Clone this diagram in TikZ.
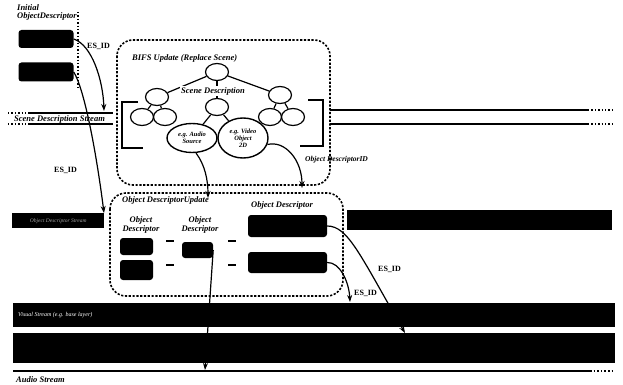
\documentclass[tikz,border=0pt]{standalone}
\usepackage{fontspec}
\setmainfont{Liberation Serif}
\usetikzlibrary{arrows.meta,shapes.geometric}
\begin{document}
\begin{tikzpicture}[x=1pt,y=-1pt,
  lbl/.style={font=\fontsize{8.5}{8.5}\selectfont\bfseries\itshape, inner sep=0pt},
  idlbl/.style={font=\fontsize{8}{8}\selectfont\bfseries, inner sep=0pt},
  blk/.style={fill=black, draw=none, rounded corners=3pt, inner sep=0pt},
  band/.style={fill=black, draw=none},
  dbox/.style={draw, dash pattern=on 2.2pt off 1.6pt, line width=1.6pt, rounded corners=16pt},
  tnode/.style={draw, ellipse, line width=1.2pt, minimum width=23pt, minimum height=17pt, inner sep=0pt},
  bignode/.style={draw, ellipse, line width=1.4pt, inner sep=0pt, font=\fontsize{6.5}{6.8}\selectfont\bfseries\itshape, align=center},
  tedge/.style={line width=1.2pt},
  conn/.style={line width=1.2pt, -{Stealth[length=7pt,width=5pt]}},
  strm/.style={line width=1.4pt},
  strmdot/.style={line width=1.4pt, dotted},
  dashmark/.style={line width=2.2pt}
]
\useasboundingbox[fill=white] (0,0) rectangle (623,385);

% ---------- Initial Object Descriptor ----------
\node[lbl, align=left, anchor=north west] (initlbl) at (17,4) {Initial\\ObjectDescriptor};
\node[blk, minimum width=55pt, minimum height=18pt] (es1) at (46,39) {};
\node[blk, minimum width=55pt, minimum height=19pt] (es2) at (46,72) {};
\coordinate (dvt) at (78,12);
\coordinate (dvb) at (78,90);
\draw[dotted, line width=1.4pt] (dvt) -- (dvb);
\node[idlbl, anchor=west] (esid1) at (87,46) {ES\_ID};
\node[idlbl, anchor=west] (esid2) at (54,170) {ES\_ID};

% ---------- Scene description stream ----------
\coordinate (sl1a) at (8,113);  \coordinate (sl1b) at (30,113); \coordinate (sl1c) at (113,113);
\coordinate (sl2a) at (8,124);  \coordinate (sl2b) at (30,124); \coordinate (sl2c) at (113,124);
\draw[strmdot] (sl1a) -- (sl1b); \draw[strm] (sl1b) -- (sl1c);
\draw[strmdot] (sl2a) -- (sl2b); \draw[strm] (sl2b) -- (sl2c);
\node[lbl, anchor=west] (sdslbl) at (14,119) {Scene Description Stream};
\coordinate (sr1a) at (330,110); \coordinate (sr1b) at (588,110); \coordinate (sr1c) at (615,110);
\coordinate (sr2a) at (330,124); \coordinate (sr2b) at (588,124); \coordinate (sr2c) at (615,124);
\draw[strm] (sr1a) -- (sr1b); \draw[strmdot] (sr1b) -- (sr1c);
\draw[strm] (sr2a) -- (sr2b); \draw[strmdot] (sr2b) -- (sr2c);

% ---------- BIFS update box ----------
\draw[dbox] (117,40) rectangle (330,185);
\node[lbl, anchor=west] (bifs) at (132,58) {BIFS Update (Replace Scene)};
% brackets
\draw[line width=1.3pt] (138,102) -- (122,102) -- (122,148) -- (143,148);
\draw[line width=1.3pt] (308,100) -- (323,100) -- (323,146) -- (300,146);

% tree
\node[tnode] (root) at (217,72) {};
\node[tnode] (tl) at (157,97) {};
\node[tnode] (tm) at (217,107) {};
\node[tnode] (tr) at (280,95) {};
\node[tnode] (tll) at (142,117) {};
\node[tnode] (tlr) at (165,117) {};
\node[tnode] (trl) at (270,117) {};
\node[tnode] (trr) at (293,117) {};
\node[bignode, minimum width=50pt, minimum height=29pt] (audio) at (192,138) {e.g. Audio\\Source};
\node[bignode, minimum width=50pt, minimum height=40pt] (video) at (243,138) {e.g. Video\\Object\\2D};
\draw[tedge] (root) -- (tl);
\draw[tedge] (root) -- (tm);
\draw[tedge] (root) -- (tr);
\draw[tedge] (tl) -- (tll);
\draw[tedge] (tl) -- (tlr);
\draw[tedge] (tr) -- (trl);
\draw[tedge] (tr) -- (trr);
\draw[tedge] (tm) -- (audio);
\draw[tedge] (tm) -- (video);
\node[lbl, fill=white, inner sep=1pt] (scdesc) at (213,91) {Scene Description};
\node[lbl, font=\fontsize{7.5}{7.5}\selectfont\bfseries\itshape, anchor=west] (odid) at (305,160) {Object DescriptorID};

% ---------- Object descriptor streams ----------
\node[band, minimum width=92pt, minimum height=15pt, anchor=north west,
      font=\fontsize{5.5}{5.5}\selectfont\itshape, text=gray!70] (odsl) at (12,213) {Object Descriptor Stream};
\node[band, minimum width=265pt, minimum height=20pt, anchor=north west] (odsr) at (347,210) {};

% ---------- OD update box ----------
\draw[dbox] (110,193) rectangle (343,296);
\node[lbl, anchor=west] (odulbl) at (122,200) {Object DescriptorUpdate};
\node[lbl, align=center] (od1lbl) at (141,225) {Object\\Descriptor};
\node[lbl, align=center] (od2lbl) at (200,225) {Object\\Descriptor};
\node[lbl] (od3lbl) at (282,205) {Object Descriptor};
\node[blk, minimum width=33pt, minimum height=17pt] (bA) at (136.5,246.5) {};
\node[blk, minimum width=33pt, minimum height=20pt] (bB) at (136.5,270) {};
\node[blk, minimum width=31pt, minimum height=16pt] (bC) at (197.5,250) {};
\node[blk, minimum width=79pt, minimum height=22pt] (bD) at (287.5,226) {};
\node[blk, minimum width=79pt, minimum height=21pt] (bE) at (287.5,262.5) {};
\coordinate (m1a) at (166,241); \coordinate (m1b) at (174,241);
\coordinate (m2a) at (166,265); \coordinate (m2b) at (174,265);
\coordinate (m3a) at (228,241); \coordinate (m3b) at (236,241);
\coordinate (m4a) at (228,265); \coordinate (m4b) at (236,265);
\draw[dashmark] (m1a) -- (m1b);
\draw[dashmark] (m2a) -- (m2b);
\draw[dashmark] (m3a) -- (m3b);
\draw[dashmark] (m4a) -- (m4b);

% ---------- Elementary streams ----------
\node[band, minimum width=602pt, minimum height=24pt, anchor=north west] (vis1) at (13,303) {};
\node[font=\fontsize{6}{6}\selectfont\itshape, text=white, anchor=west, inner sep=0pt] (vis1lbl) at (18,315) {Visual Stream (e.g. base layer)};
\node[band, minimum width=602pt, minimum height=30pt, anchor=north west] (vis2) at (13,333) {};
\coordinate (al1) at (13,371); \coordinate (al2) at (590,371); \coordinate (al3) at (615,371);
\draw[line width=1.6pt] (al1) -- (al2);
\draw[line width=1.6pt, dotted] (al2) -- (al3);
\node[lbl, anchor=west] (audlbl) at (16,380) {Audio Stream};

% ---------- connectors ----------
\coordinate (sdtgt) at (104,111);
\coordinate (odtgt1) at (104,213);
\coordinate (audtgt) at (208,198);
\coordinate (vidtgt) at (302,188);
\coordinate (astrtgt) at (205,370);
\coordinate (dtgt) at (405,333);
\coordinate (etgt) at (350,302);
\draw[conn] (es1.east) .. controls (92,45) and (103,80) .. (sdtgt);
\draw[conn] (es2.east) .. controls (84,88) and (96,150) .. (odtgt1);
\draw[conn] (audio.-75) .. controls (205,165) and (208,180) .. (audtgt);
\draw[conn] (video.-15) .. controls (285,140) and (302,160) .. (vidtgt);
\draw[conn] (bC.east) -- (astrtgt);
\draw[conn] (bD.east) .. controls (348,226) and (360,255) .. (dtgt);
\draw[conn] (bE.east) .. controls (340,262) and (349,282) .. (etgt);
\node[idlbl, anchor=west] (esid3) at (378,269) {ES\_ID};
\node[idlbl, anchor=west] (esid4) at (354,293) {ES\_ID};
\end{tikzpicture}
\end{document}
